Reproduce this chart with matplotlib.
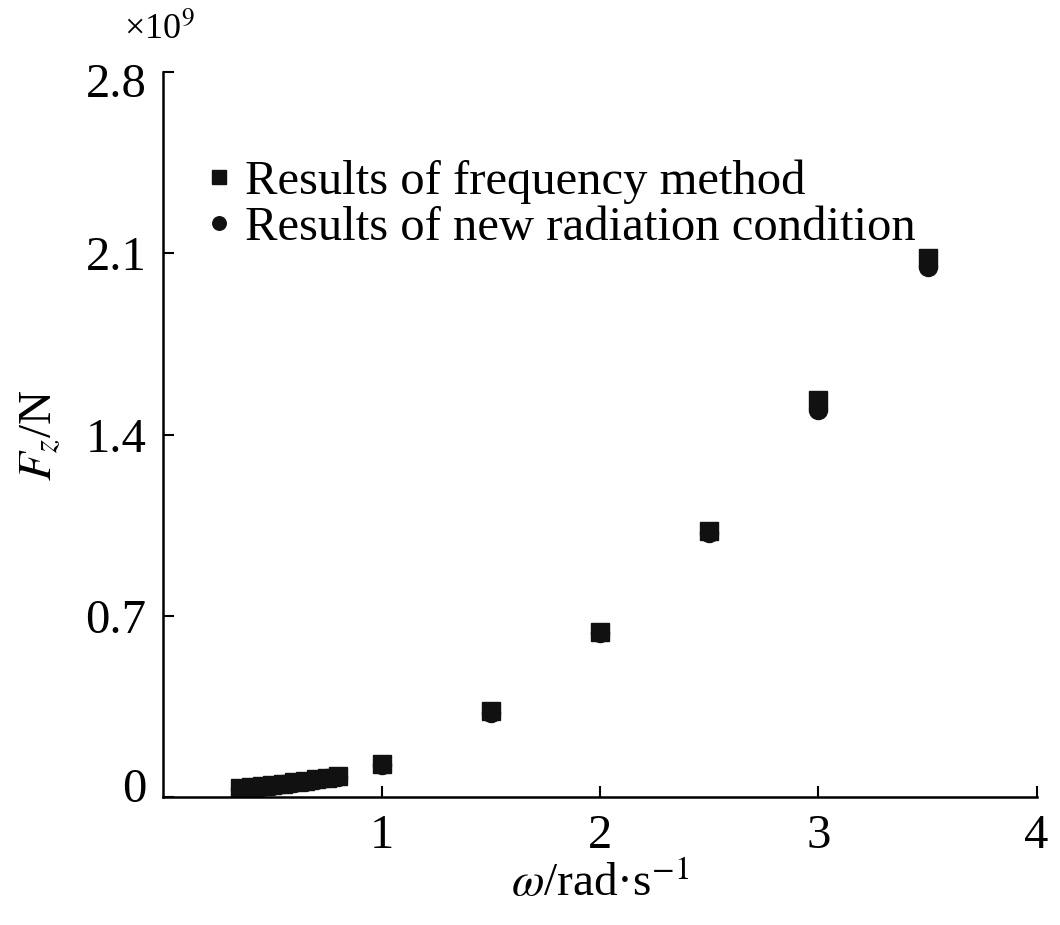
import matplotlib
matplotlib.use("Agg")
import matplotlib.pyplot as plt
from matplotlib.transforms import ScaledTranslation

plt.rcParams['font.family'] = ['Liberation Serif', 'DejaVu Serif']
plt.rcParams['mathtext.fontset'] = 'stix'

# angular frequency (rad/s)
omega = [0.35, 0.40, 0.45, 0.50, 0.55, 0.60, 0.65, 0.70, 0.75, 0.80,
         1.0, 1.5, 2.0, 2.5, 3.0, 3.5]
# vertical force, units of 1e9 N
fz_freq = [0.035, 0.039, 0.043, 0.048, 0.053, 0.058, 0.064, 0.070, 0.076, 0.082,
           0.128, 0.333, 0.638, 1.030, 1.535, 2.084]
fz_new = [0.032, 0.036, 0.040, 0.045, 0.050, 0.055, 0.061, 0.067, 0.073, 0.079,
          0.126, 0.326, 0.634, 1.022, 1.495, 2.046]

yticks = [0, 0.7, 1.4, 2.1, 2.8]
ytick_labels = ['0', '0.7', '1.4', '2.1', '2.8']
xticks = [1, 2, 3, 4]

fig = plt.figure(figsize=(10.6, 9.25), dpi=100)
ax = fig.add_axes([0.154, 0.138, 0.824, 0.784])

ax.plot(omega, fz_freq, 's', color='#111111', markersize=13, label='Results of frequency method')
ax.plot(omega, fz_new, 'o', color='#111111', markersize=13, label='Results of new radiation condition')

ax.set_xlim(0, 4)
ax.set_ylim(0, 2.8)
ax.set_xticks(xticks)
ax.set_yticks(yticks)
ax.set_yticklabels(ytick_labels)
ax.tick_params(direction='in', length=8, width=1.5, labelsize=35, pad=12)

# nudge the end labels like the original: 0 sits a bit up, 2.8 a bit down
ylabels = ax.get_yticklabels()
ylabels[0].set_transform(ylabels[0].get_transform() + ScaledTranslation(0, 12 / 100, fig.dpi_scale_trans))
ylabels[-1].set_transform(ylabels[-1].get_transform() + ScaledTranslation(0, -8 / 100, fig.dpi_scale_trans))

for s in ['top', 'right']:
    ax.spines[s].set_visible(False)
for s in ['left', 'bottom']:
    ax.spines[s].set_linewidth(1.8)

ax.set_xlabel(r'$\omega$/rad·s$^{-1}$', fontsize=34, labelpad=2)
ax.set_ylabel(r'$F_z$/N', fontsize=34, labelpad=16)
ax.text(-0.045, 1.035, r'×10$^9$', transform=ax.transAxes, fontsize=26, ha='left', va='bottom')

ax.legend(loc='upper left', bbox_to_anchor=(0.03, 0.907), frameon=False, fontsize=35,
          markerscale=0.75, handlelength=0.4, handletextpad=0.35, labelspacing=0.05, borderaxespad=0)

fig.savefig('out.png', dpi=100)
